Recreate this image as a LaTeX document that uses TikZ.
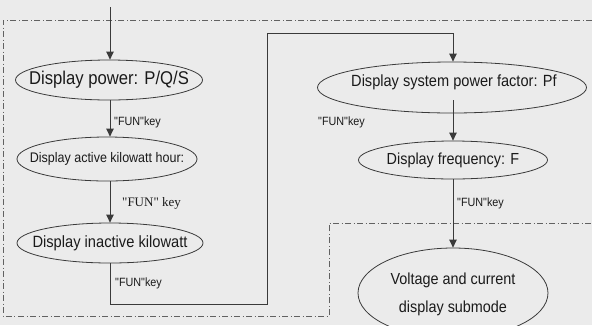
\documentclass[tikz,border=0pt]{standalone}
\usepackage{fontspec}
\usetikzlibrary{arrows.meta,shapes.geometric}
\newfontfamily\lfont[FakeStretch=0.9]{Liberation Sans}
\newfontfamily\sfont{Liberation Serif}
\definecolor{bg}{HTML}{EBEBEB}
\definecolor{ln}{HTML}{3A3A3A}
\definecolor{tx}{HTML}{1A1A1A}
\tikzset{
  ell/.style={draw=ln, line width=0.8pt, ellipse, inner sep=0pt, text=tx},
  conn/.style={draw=ln, line width=0.95pt, -{Triangle[width=7.5pt,length=8pt]}},
  plain/.style={draw=ln, line width=0.95pt},
  lab/.style={anchor=west, inner sep=0pt, text=tx, font=\lfont\fontsize{12}{14}\selectfont},
  border/.style={draw=ln!80, line width=0.8pt, dash pattern=on 6pt off 2.5pt on 1pt off 2.5pt}
}
\begin{document}
\begin{tikzpicture}[x=1pt,y=-1pt]
\fill[bg] (0,0) rectangle (592,325);
\useasboundingbox (0,0) rectangle (592,325);
\begin{scope}
\clip (0,0) rectangle (592,325);
% border
\draw[border] (592,20) -- (3,20) -- (3,316) -- (329,316) -- (329,223) -- (592,223);
% nodes
\coordinate (start) at (110,7);
\node[ell, minimum width=187pt, minimum height=40pt] (e1) at (109,80)
  {\makebox[0pt]{\lfont\fontsize{18.5}{20}\selectfont Display power: P/Q/S}};
\node[ell, minimum width=180pt, minimum height=44pt] (e2) at (107,159)
  {\makebox[0pt]{\lfont\fontsize{13.9}{16}\selectfont Display active kilowatt hour:}};
\node[ell, minimum width=186pt, minimum height=40pt] (e3) at (110,243)
  {\makebox[0pt]{\lfont\fontsize{16.3}{18}\selectfont Display inactive kilowatt}};
\node[ell, minimum width=269pt, minimum height=51pt] (e4) at (452,87.5) {};
\node[inner sep=0pt, text=tx] (t4) at (454,82)
  {\lfont\fontsize{16.2}{18}\selectfont Display system power factor: Pf};
\node[ell, minimum width=189pt, minimum height=38pt] (e5) at (453,160)
  {\makebox[0pt]{\lfont\fontsize{16}{18}\selectfont Display frequency: F}};
\node[ell, minimum width=190pt, minimum height=90pt] (e6) at (453,293)
  {\makebox[0pt]{\lfont\fontsize{16}{28}\selectfont\begin{tabular}{@{}c@{}}Voltage and current\\display submode\end{tabular}}};
\coordinate (c1) at (110,304);
\coordinate (c2) at (267,304);
\coordinate (c3) at (267,33);
\coordinate (c4) at (453,33);
\coordinate (s4) at (453,100);
% connectors
\draw[conn] (start) -- (e1.north -| start);
\draw[conn] (e1.south -| start) -- (e2.north -| start);
\draw[conn] (e2.south -| start) -- (e3.north -| start);
\draw[plain] (e3.south -| c1) -- (c1) -- (c2) -- (c3) -- (c4);
\draw[conn] (c4) -- (e4.north -| c4);
\draw[conn] (s4) -- (e5.north -| s4);
\draw[conn] (e5.south -| s4) -- (e6.north -| s4);
% labels
\node[lab] (l1) at (114,122) {"FUN"key};
\node[lab, font=\sfont\fontsize{13}{15}\selectfont] (l2) at (122,203) {"FUN" key};
\node[lab] (l3) at (115,283) {"FUN"key};
\node[lab] (l4) at (318,122) {"FUN"key};
\node[lab] (l5) at (457,203) {"FUN"key};
\end{scope}
\end{tikzpicture}
\end{document}
